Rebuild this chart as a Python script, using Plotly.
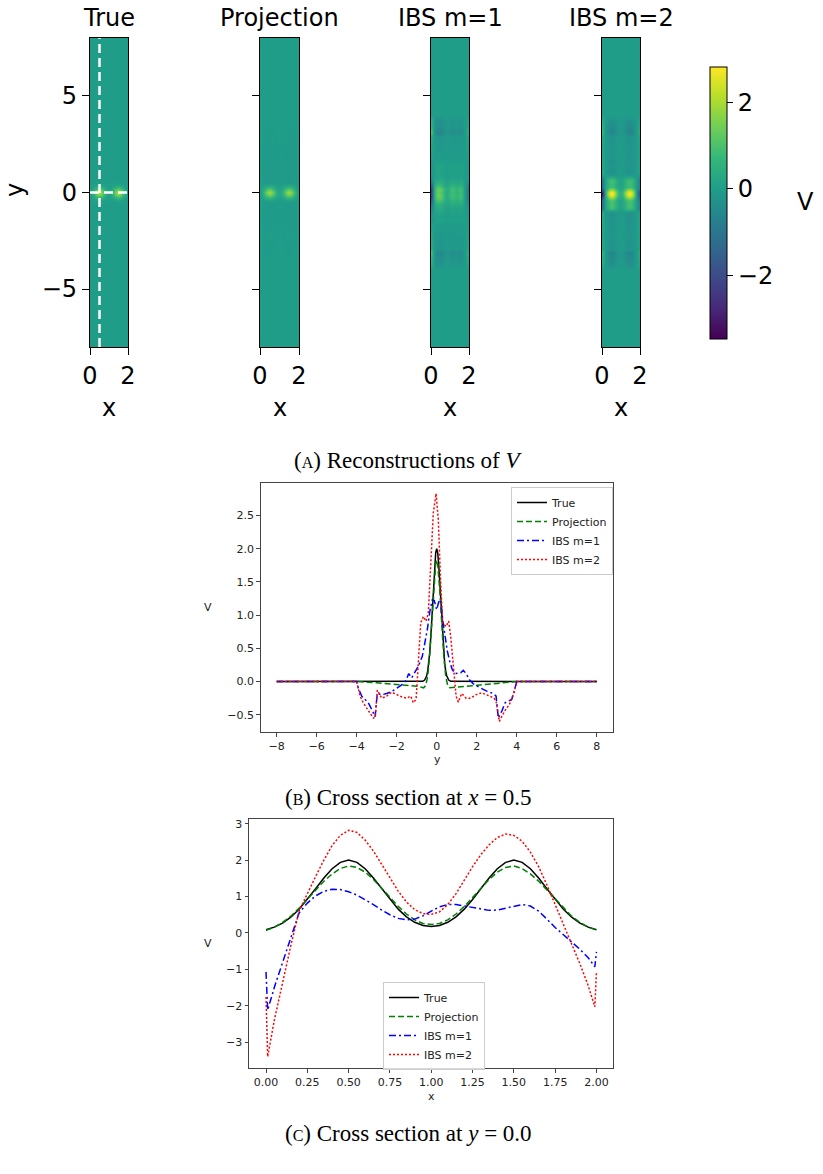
import numpy as np
import plotly.graph_objects as go

W, H = 823, 1174

# ---------------- data: cross section at y = 0 (values along x) ----------------
x_grid = [0.00, 0.05, 0.10, 0.15, 0.20, 0.25, 0.30, 0.35, 0.40, 0.45, 0.50, 0.55, 0.60, 0.65,
          0.70, 0.75, 0.80, 0.85, 0.90, 0.95, 1.00, 1.05, 1.10, 1.15, 1.20, 1.25, 1.30, 1.35,
          1.40, 1.45, 1.50, 1.55, 1.60, 1.65, 1.70, 1.75, 1.80, 1.85, 1.90, 1.95, 2.00]
vx_true = [0.088, 0.159, 0.271, 0.432, 0.649, 0.916, 1.213, 1.510, 1.765, 1.938, 2.000, 1.938,
           1.765, 1.510, 1.214, 0.918, 0.653, 0.442, 0.293, 0.205, 0.176, 0.205, 0.293, 0.442,
           0.653, 0.918, 1.214, 1.510, 1.765, 1.938, 2.000, 1.938, 1.765, 1.510, 1.213, 0.916,
           0.649, 0.432, 0.271, 0.159, 0.088]
vx_proj = [0.07, 0.16, 0.29, 0.46, 0.68, 0.93, 1.18, 1.42, 1.62, 1.77, 1.84, 1.80, 1.67, 1.47,
           1.23, 0.97, 0.73, 0.52, 0.36, 0.26, 0.23, 0.26, 0.36, 0.52, 0.73, 0.97, 1.23, 1.47,
           1.67, 1.80, 1.84, 1.77, 1.62, 1.42, 1.18, 0.93, 0.68, 0.46, 0.29, 0.16, 0.08]
x_ibs = [0.00, 0.01, 0.05, 0.10, 0.15, 0.20, 0.25, 0.30, 0.35, 0.40, 0.45, 0.50, 0.55, 0.60,
         0.65, 0.70, 0.75, 0.80, 0.85, 0.90, 0.95, 1.00, 1.05, 1.10, 1.15, 1.20, 1.25, 1.30,
         1.35, 1.40, 1.45, 1.50, 1.55, 1.60, 1.65, 1.70, 1.75, 1.80, 1.85, 1.90, 1.95, 1.99, 2.00]
vx_ibs1 = [-1.07, -2.12, -1.50, -0.80, -0.10, 0.55, 0.82, 1.02, 1.14, 1.20, 1.19, 1.13, 1.04,
           0.92, 0.78, 0.63, 0.50, 0.40, 0.36, 0.38, 0.47, 0.60, 0.72, 0.78, 0.78, 0.74, 0.70,
           0.65, 0.62, 0.63, 0.68, 0.74, 0.78, 0.74, 0.60, 0.38, 0.15, -0.05, -0.25, -0.45,
           -0.68, -0.93, -0.52]
vx_ibs2 = [-1.76, -3.40, -2.40, -1.35, -0.35, 0.60, 1.10, 1.55, 2.00, 2.40, 2.68, 2.82, 2.76,
           2.55, 2.25, 1.90, 1.52, 1.15, 0.85, 0.64, 0.53, 0.51, 0.58, 0.78, 1.08, 1.45, 1.82,
           2.15, 2.42, 2.62, 2.72, 2.68, 2.52, 2.22, 1.82, 1.32, 0.78, 0.25, -0.30, -0.85,
           -1.45, -2.03, -1.05]

# ---------------- data: cross section at x = 0.5 (values along y) ----------------
y_true = [-8.0, -0.7, -0.6, -0.5, -0.45, -0.4, -0.35, -0.3, -0.25, -0.2, -0.15, -0.1, -0.05, 0.0,
          0.05, 0.1, 0.15, 0.2, 0.25, 0.3, 0.35, 0.4, 0.45, 0.5, 0.6, 0.7, 8.0]
vy_true = [0.0, 0.004, 0.022, 0.088, 0.16, 0.27, 0.43, 0.65, 0.92, 1.21, 1.51, 1.76, 1.94, 2.0,
           1.94, 1.76, 1.51, 1.21, 0.92, 0.65, 0.43, 0.27, 0.16, 0.088, 0.022, 0.004, 0.0]
y_proj = [-8.0, -4.0, -3.0, -2.0, -1.0, -0.65, -0.55, -0.45, -0.35, -0.25, -0.15, -0.05, 0.0,
          0.05, 0.15, 0.25, 0.35, 0.45, 0.55, 0.65, 1.0, 2.0, 3.0, 4.0, 8.0]
vy_proj = [0.0, 0.0, -0.02, -0.04, -0.07, -0.095, -0.06, 0.08, 0.40, 0.85, 1.38, 1.77, 1.83,
           1.77, 1.38, 0.85, 0.40, 0.08, -0.06, -0.095, -0.085, -0.06, -0.035, 0.0, 0.0]
y_ibs1 = [-8.0, -4.0, -3.92, -3.75, -3.58, -3.42, -3.25, -3.08, -2.97, -2.75, -2.5, -2.25, -2.0,
          -1.75, -1.53, -1.4, -1.25, -1.08, -0.92, -0.72, -0.58, -0.47, -0.33, -0.22, -0.12,
          0.0, 0.1, 0.2, 0.3, 0.42, 0.53, 0.67, 0.78, 0.92, 1.08, 1.2, 1.33, 1.47, 1.63, 1.83,
          2.17, 2.5, 2.83, 2.97, 3.08, 3.25, 3.42, 3.58, 3.75, 3.87, 4.0, 8.0]
vy_ibs1 = [0.0, 0.0, -0.10, -0.22, -0.27, -0.32, -0.42, -0.53, -0.18, -0.20, -0.18, -0.15, -0.10,
           -0.05, 0.02, 0.12, 0.055, 0.155, 0.23, 0.38, 0.58, 0.78, 1.08, 1.23, 1.22,
           1.08, 1.20, 1.23, 0.93, 0.68, 0.46, 0.28, 0.18, 0.12, 0.12, 0.13, 0.17, 0.12, 0.03,
           -0.035, -0.095, -0.145, -0.18, -0.22, -0.55, -0.45, -0.32, -0.30, -0.27, -0.15, 0.0, 0.0]
y_ibs2 = [-8.0, -4.0, -3.83, -3.67, -3.5, -3.33, -3.17, -3.07, -2.97, -2.75, -2.5, -2.25, -2.0,
          -1.75, -1.5, -1.3, -1.17, -1.03, -0.92, -0.8, -0.67, -0.53, -0.42, -0.3, -0.17, -0.03,
          0.08, 0.2, 0.3, 0.47, 0.6, 0.7, 0.83, 0.97, 1.08, 1.25, 1.47, 1.7, 1.95, 2.25, 2.58,
          2.87, 2.97, 3.13, 3.3, 3.47, 3.63, 3.8, 3.97, 4.03, 8.0]
vy_ibs2 = [0.0, 0.0, -0.22, -0.32, -0.40, -0.47, -0.55, -0.53, -0.13, -0.25, -0.22, -0.16, -0.20,
           -0.23, -0.25, -0.22, -0.32, -0.27, 0.28, 0.88, 0.98, 0.91, 1.03, 1.68, 2.54, 2.83,
           2.44, 1.48, 0.88, 0.83, 0.91, 0.68, 0.18, -0.22, -0.31, -0.18, -0.25, -0.25, -0.20,
           -0.17, -0.21, -0.25, -0.30, -0.60, -0.50, -0.41, -0.35, -0.22, -0.05, 0.0, 0.0]

methods = ["True", "Projection", "IBS m=1", "IBS m=2"]
x_section = 0.5
y_section = 0.0
v_min, v_max = -3.47, 2.82

profiles_x = [(x_grid, vx_true), (x_grid, vx_proj), (x_ibs, vx_ibs1), (x_ibs, vx_ibs2)]
profiles_y = [(y_true, vy_true), (y_proj, vy_proj), (y_ibs1, vy_ibs1), (y_ibs2, vy_ibs2)]
colors = ["black", "green", "blue", "red"]
dashes = ["solid", "6px,3px", "7px,3px,2px,3px", "2px,2px"]

# heatmap grid built from the two cross-sections of each method
xg = np.linspace(0, 2, 101)
yg = np.linspace(-8, 8, 321)


def px(v):
    return v / W


def py(v):
    return 1 - v / H


fig = go.Figure()

panel_x = [(90, 128), (260, 299), (431, 469), (602, 640)]
for i, (name, (xs, vx), (ys, vy)) in enumerate(zip(methods, profiles_x, profiles_y)):
    c = float(np.interp(0.0, ys, vy))
    z = np.outer(np.interp(yg, ys, vy), np.interp(xg, xs, vx)) / c
    fig.add_trace(go.Heatmap(x=xg, y=yg, z=np.round(z, 3), coloraxis="coloraxis",
                             zsmooth="best", xaxis=f"x{i+1}", yaxis=f"y{i+1}",
                             showlegend=False, hoverinfo="skip"))

# dashed section lines on the True panel
fig.add_trace(go.Scatter(x=[x_section, x_section], y=[-8, 8], mode="lines",
                         line=dict(color="white", width=2.5, dash="9px,5px"),
                         xaxis="x1", yaxis="y1", showlegend=False, hoverinfo="skip"))
fig.add_trace(go.Scatter(x=[0, 2], y=[y_section, y_section], mode="lines",
                         line=dict(color="white", width=2.5, dash="9px,5px"),
                         xaxis="x1", yaxis="y1", showlegend=False, hoverinfo="skip"))

# cross section along y (x = 0.5)
for name, (ys, vy), col, d in zip(methods, profiles_y, colors, dashes):
    fig.add_trace(go.Scatter(x=ys, y=vy, mode="lines", name=name,
                             line=dict(color=col, width=1.5, dash=d),
                             xaxis="x5", yaxis="y5", legend="legend"))
# cross section along x (y = 0)
for name, (xs, vx), col, d in zip(methods, profiles_x, colors, dashes):
    fig.add_trace(go.Scatter(x=xs, y=vx, mode="lines", name=name,
                             line=dict(color=col, width=1.5, dash=d),
                             xaxis="x6", yaxis="y6", legend="legend2"))

big = dict(family="DejaVu Sans", size=24, color="black")
small = dict(family="DejaVu Sans", size=11, color="#222")

layout = dict(width=W, height=H, margin=dict(l=0, r=0, t=0, b=0, autoexpand=False),
              paper_bgcolor="white", plot_bgcolor="white", font=small)

for i, (a, b) in enumerate(panel_x):
    k = "" if i == 0 else str(i + 1)
    layout[f"xaxis{k}"] = dict(domain=[px(a), px(b)], range=[0, 2], anchor=f"y{i+1}",
                               tickvals=[0, 2], ticks="outside", ticklen=7, tickwidth=1.3,
                               tickcolor="black", showline=True, mirror=True, linecolor="black",
                               linewidth=1.3, showgrid=False, zeroline=False, tickfont=big,
                               automargin=False)
    layout[f"yaxis{k}"] = dict(domain=[py(347), py(38)], range=[-8, 8], anchor=f"x{i+1}",
                               tickvals=[-5, 0, 5], showticklabels=(i == 0), ticks="outside",
                               ticklen=7, tickwidth=1.3, tickcolor="black", showline=True,
                               mirror=True, linecolor="black", linewidth=1.3, showgrid=False,
                               zeroline=False, tickfont=big, automargin=False)

frame = dict(showline=True, mirror=True, linecolor="#444", linewidth=1, showgrid=False,
             zeroline=False, ticks="outside", ticklen=3.5, tickwidth=1, tickcolor="#444",
             tickfont=small, automargin=False)
layout["xaxis5"] = dict(domain=[px(260.7), px(612.7)], range=[-8.8, 8.8], anchor="y5",
                        tickvals=[-8, -6, -4, -2, 0, 2, 4, 6, 8], **frame)
layout["yaxis5"] = dict(domain=[py(732), py(483)], range=[-0.76, 2.99], anchor="x5",
                        tickvals=[-0.5, 0, 0.5, 1, 1.5, 2, 2.5], tickformat=".1f", **frame)
layout["xaxis6"] = dict(domain=[px(249), px(613)], range=[-0.103, 2.1], anchor="y6",
                        tickvals=[0, 0.25, 0.5, 0.75, 1, 1.25, 1.5, 1.75, 2],
                        tickformat=".2f", **frame)
layout["yaxis6"] = dict(domain=[py(1068), py(819)], range=[-3.71, 3.13], anchor="x6",
                        tickvals=[-3, -2, -1, 0, 1, 2, 3], **frame)

layout["coloraxis"] = dict(
    colorscale="Viridis", cmin=v_min, cmax=v_max,
    colorbar=dict(x=px(710), xanchor="left", y=py(203), yanchor="middle",
                  thickness=17, thicknessmode="pixels", len=272, lenmode="pixels",
                  outlinewidth=1, outlinecolor="black", xpad=0, ypad=0,
                  tickvals=[-2, 0, 2], ticks="outside", ticklen=6, tickwidth=1.2,
                  tickcolor="black", tickfont=big))

leg = dict(font=small, bordercolor="#ccc", borderwidth=1, bgcolor="rgba(255,255,255,0.8)",
           xanchor="left", yanchor="top", itemwidth=30, tracegroupgap=0)
layout["legend"] = dict(x=px(511), y=py(487), **leg)
layout["legend2"] = dict(x=px(383), y=py(982), **leg)

ann = []


def text(s, x, y, font, angle=0):
    ann.append(dict(text=s, x=px(x), y=py(y), xref="paper", yref="paper", showarrow=False,
                    xanchor="center", yanchor="middle", font=font, textangle=angle))


for name, (a, b) in zip(methods, panel_x):
    text(name, (a + b) / 2, 18, big)
    text("x", (a + b) / 2, 408, big)
text("y", 15, 190, big, -90)
text("V", 805, 202, big)

text("V", 208, 607, small)
text("y", 437, 760, small)
text("V", 208, 943, small)
text("x", 431, 1096, small)

serif = dict(family="Liberation Serif", size=23, color="black")
sc = "<span style='font-size:16px'>%s</span>"
text("(" + sc % "A" + ") Reconstructions of <i>V</i>", 408, 460, serif)
text("(" + sc % "B" + ") Cross section at <i>x</i> = 0.5", 408, 797, serif)
text("(" + sc % "C" + ") Cross section at <i>y</i> = 0.0", 408, 1133, serif)

layout["annotations"] = ann
fig.update_layout(**layout)
fig.write_html("out.html")
